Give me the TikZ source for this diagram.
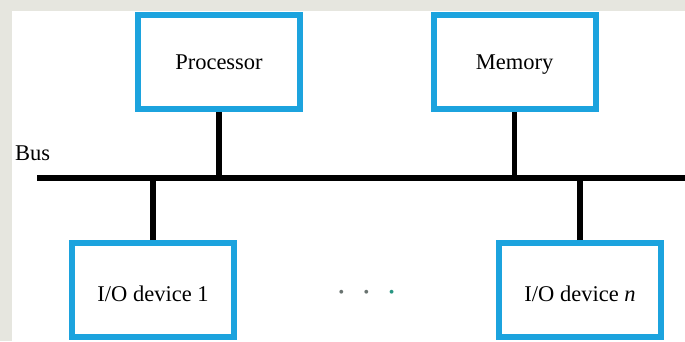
\documentclass[tikz,border=0pt]{standalone}
\usepackage{fontspec}
\setmainfont{Liberation Serif}
\usetikzlibrary{positioning, calc}
\definecolor{boxblue}{RGB}{28, 163, 222}
\definecolor{pagegray}{RGB}{230, 230, 223}
\definecolor{dotgray}{RGB}{105, 115, 112}
\definecolor{dotteal}{RGB}{40, 150, 130}

\begin{document}
\begin{tikzpicture}[
        x=1pt, y=-1pt,
        block/.style={draw=boxblue, line width=6pt, fill=white, minimum width=162pt, minimum height=94pt, align=center, font=\fontsize{22.5}{26}\selectfont, text height=14pt, text depth=0pt},
        iobox/.style={block, text height=22pt},
        link/.style={line width=5.5pt, black}
    ]
        % Page
        \fill[pagegray] (0,0) rectangle (685,341);
        \fill[white] (12,11) rectangle (685,341);
        \useasboundingbox (0,0) rectangle (685,341);

        % Units
        \node[block] (proc) at (219, 62) {Processor};
        \node[block] (mem) at (514.5, 62) {Memory};
        \node[iobox] (io1) at (153, 290) {I/O device 1};
        \node[iobox] (ion) at (580, 290) {I/O device \textit{n}};
        \node[font=\fontsize{16}{18}\selectfont] (dots) at (366.5, 294)
            {\textcolor{dotgray}{\textbullet}\hspace{19.5pt}\textcolor{dotgray}{\textbullet}\hspace{19.5pt}\textcolor{dotteal}{\textbullet}};

        % Bus
        \coordinate (busL) at (37, 178);
        \coordinate (busR) at (685, 178);
        \node[font=\fontsize{22.5}{26}\selectfont, anchor=base west, inner sep=0pt] (buslbl) at (15, 160) {Bus};
        \draw[link] (busL) -- (busR);

        % Connectors
        \draw[link] (proc.south) -- (proc.south |- busL);
        \draw[link] (mem.south) -- (mem.south |- busL);
        \draw[link] (io1.north) -- (io1.north |- busL);
        \draw[link] (ion.north) -- (ion.north |- busL);
    \end{tikzpicture}
\end{document}
